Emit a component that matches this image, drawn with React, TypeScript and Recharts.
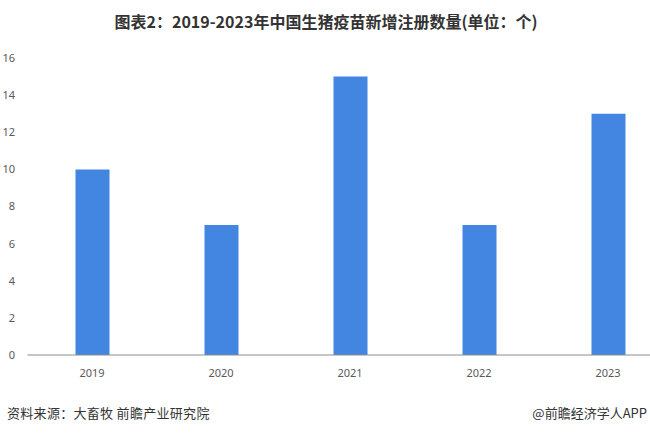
import React from 'react';
import { BarChart, XAxis, YAxis, Bar } from 'recharts';

const years = ['2019', '2020', '2021', '2022', '2023'];
const registrations = [10, 7, 15, 7, 13];
const yTicks = [0, 2, 4, 6, 8, 10, 12, 14, 16];

const chartData = years.map((year, i) => ({ year, value: registrations[i] }));

const cjk = '"Noto Sans CJK SC", "Noto Sans", sans-serif';

export default function App() {
    return (
        <div style={{ position: 'absolute', left: 0, top: 0, width: 650, height: 433, overflow: 'hidden', background: '#fff', fontFamily: cjk }}>
            <div style={{ position: 'absolute', left: 0, top: 9, width: 652, textAlign: 'center', fontSize: 16, fontWeight: 'bold', color: '#333', lineHeight: '24px' }}>
                图表2：2019-2023年中国生猪疫苗新增注册数量(单位：个)
            </div>
            <div style={{ position: 'absolute', left: 0, top: 0 }}>
                <BarChart width={700} height={385} data={chartData} margin={{ top: 58, right: 27.5, bottom: 0, left: 0 }}>
                    <XAxis
                        dataKey="year"
                        tickLine={false}
                        axisLine={{ stroke: '#8c8c8c' }}
                        tickMargin={8}
                        height={30}
                        tick={{ fill: '#595959', fontSize: 11, fontFamily: '"Noto Sans", sans-serif' }}
                    />
                    <YAxis
                        domain={[0, 16]}
                        ticks={yTicks}
                        width={27.5}
                        tickLine={false}
                        axisLine={false}
                        tickMargin={6.5}
                        interval={0}
                        tick={{ fill: '#595959', fontSize: 11, fontFamily: '"Noto Sans", sans-serif' }}
                    />
                    <Bar dataKey="value" fill="#4286e2" barSize={34} isAnimationActive={false} />
                </BarChart>
            </div>
            <div style={{ position: 'absolute', left: 7, top: 403, fontSize: 13, lineHeight: '19px', color: '#333', letterSpacing: 0.3 }}>
                资料来源：大畜牧 前瞻产业研究院
            </div>
            <div style={{ position: 'absolute', right: 3, top: 403, fontSize: 13, lineHeight: '19px', color: '#333' }}>
                @前瞻经济学人APP
            </div>
        </div>
    );
}
